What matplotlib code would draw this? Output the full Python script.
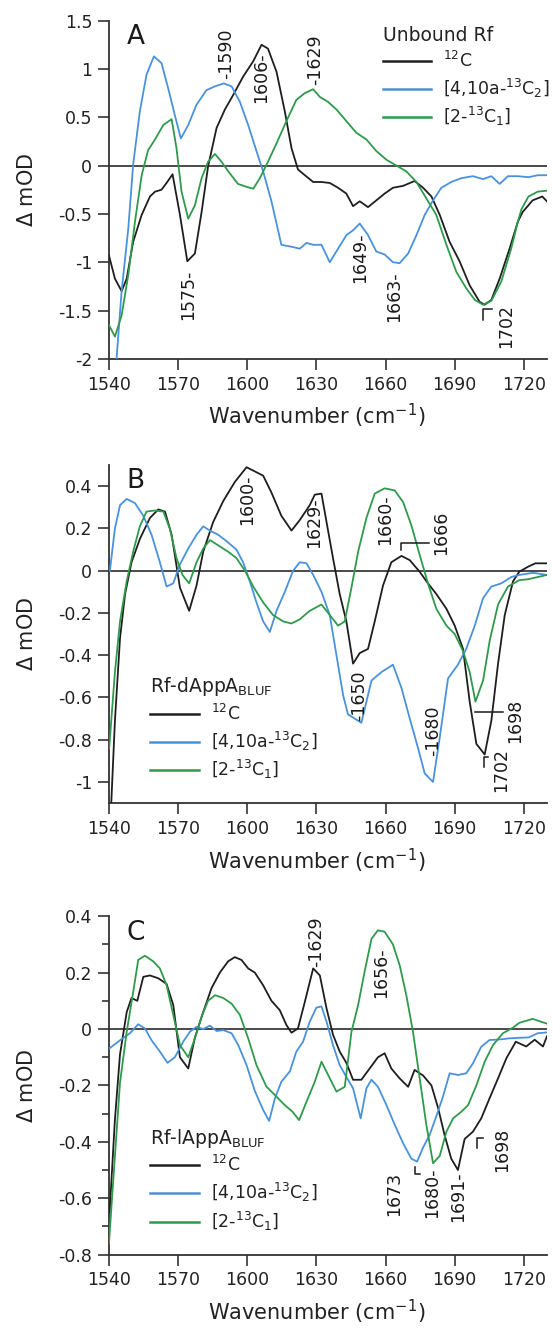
import matplotlib
matplotlib.use('Agg')
import matplotlib.pyplot as plt
from matplotlib.lines import Line2D
from matplotlib.ticker import MultipleLocator

# ---------------- Panel A: unbound Rf ----------------
a_c12_x = [1540, 1542.6, 1545.5, 1547.7, 1550.5, 1554.2, 1557.8, 1560, 1562.8, 1565, 1567.6, 1570.8,
           1574, 1577.3, 1580.2, 1583, 1586.7, 1590.3, 1593.9, 1598.2, 1602.6, 1606.2, 1609, 1612.7,
           1616.3, 1619.2, 1622, 1625, 1628.6, 1632.2, 1635.8, 1639.4, 1643, 1645.9, 1648.8, 1652.4,
           1656, 1659.6, 1663.2, 1667.6, 1672.6, 1676.3, 1679.9, 1683.5, 1687.8, 1692.1, 1696.5,
           1700.8, 1703, 1705.9, 1709.5, 1713.8, 1717.4, 1719.5, 1723.8, 1728, 1730]
a_c12_y = [-0.93, -1.17, -1.30, -1.17, -0.79, -0.51, -0.32, -0.27, -0.25, -0.18, -0.09, -0.51,
           -0.99, -0.91, -0.48, -0.01, 0.39, 0.58, 0.73, 0.92, 1.08, 1.25, 1.21, 0.97,
           0.56, 0.18, -0.04, -0.10, -0.17, -0.17, -0.18, -0.23, -0.29, -0.42, -0.37, -0.43,
           -0.36, -0.29, -0.23, -0.21, -0.16, -0.23, -0.32, -0.51, -0.79, -0.99, -1.24,
           -1.41, -1.44, -1.39, -1.17, -0.86, -0.58, -0.48, -0.36, -0.32, -0.37]

a_c13b_x = [1543.3, 1545.5, 1548.4, 1550.5, 1553.4, 1556.3, 1559.5, 1562.8, 1565.7, 1568.6, 1571.2,
            1574.4, 1578, 1582.3, 1586, 1589.8, 1593.2, 1596.8, 1600.4, 1604, 1606.9, 1610.5, 1614.8,
            1619.2, 1622.8, 1625.7, 1628.6, 1632.2, 1635.8, 1639.4, 1643, 1645.9, 1648.8, 1652.4,
            1656, 1659.6, 1663.2, 1666.1, 1669.8, 1673.4, 1677, 1680.6, 1684.2, 1688.5, 1692.9,
            1697.9, 1702.3, 1705.9, 1709.5, 1713.1, 1717.4, 1722, 1726, 1730]
a_c13b_y = [-2.0, -1.30, -0.65, 0.01, 0.56, 0.94, 1.13, 1.06, 0.80, 0.52, 0.28,
            0.42, 0.63, 0.78, 0.82, 0.85, 0.82, 0.66, 0.42, 0.15, -0.06, -0.37, -0.82,
            -0.84, -0.86, -0.80, -0.82, -0.82, -1.00, -0.86, -0.72, -0.67, -0.60, -0.72,
            -0.89, -0.92, -1.00, -1.01, -0.91, -0.72, -0.51, -0.36, -0.23, -0.17, -0.13,
            -0.11, -0.14, -0.11, -0.19, -0.11, -0.11, -0.12, -0.10, -0.10]

a_c13g_x = [1540, 1542.6, 1545.5, 1548.4, 1551.3, 1554.2, 1557, 1560, 1563.6, 1567.2, 1569.3, 1571.5,
            1574.4, 1577.3, 1580.2, 1583, 1586, 1588.8, 1592.4, 1596, 1599.7, 1602.6, 1605.5, 1609,
            1612.7, 1617, 1621.3, 1625, 1628.6, 1631.5, 1635, 1638.7, 1643, 1647.3, 1651.7, 1656,
            1660.4, 1665.4, 1669, 1673.4, 1677.7, 1682, 1686.4, 1690.7, 1695, 1698.7, 1702.3,
            1705.9, 1710.2, 1714.5, 1717.4, 1719, 1722, 1726, 1730]
a_c13g_y = [-1.65, -1.77, -1.55, -1.13, -0.58, -0.10, 0.16, 0.27, 0.42, 0.48, 0.18, -0.27,
            -0.55, -0.41, -0.13, 0.04, 0.12, 0.04, -0.08, -0.19, -0.22, -0.24, -0.13, 0.04,
            0.23, 0.46, 0.68, 0.75, 0.79, 0.71, 0.66, 0.58, 0.46, 0.34, 0.27, 0.15,
            0.06, -0.01, -0.06, -0.17, -0.34, -0.51, -0.82, -1.10, -1.27, -1.39, -1.44,
            -1.40, -1.20, -0.86, -0.58, -0.45, -0.32, -0.27, -0.26]

# ---------------- Panel B: Rf-dAppA BLUF ----------------
b_c12_x = [1540.8, 1542.6, 1544.8, 1547, 1549.8, 1553.4, 1557.8, 1561.4, 1564.3, 1567.2, 1570.8,
           1574.8, 1578, 1580.9, 1585.2, 1589.6, 1594.6, 1599.7, 1603.3, 1606.9, 1610.5, 1614.8,
           1619.2, 1622.8, 1627.1, 1629.3, 1632.2, 1634.4, 1637.2, 1640.1, 1643, 1645.9, 1648.8,
           1652.4, 1655.3, 1658.9, 1662.5, 1666.9, 1670.5, 1674.8, 1678.4, 1682, 1686.4, 1690,
           1693.6, 1696.5, 1699.4, 1703, 1705.9, 1708.8, 1711.7, 1715.3, 1718, 1722, 1725, 1730]
b_c12_y = [-1.15, -0.71, -0.32, -0.11, 0.04, 0.15, 0.25, 0.29, 0.28, 0.17, -0.08,
           -0.19, -0.07, 0.09, 0.23, 0.33, 0.42, 0.49, 0.47, 0.45, 0.37, 0.26,
           0.19, 0.24, 0.31, 0.36, 0.365, 0.23, 0.06, -0.11, -0.24, -0.44, -0.39,
           -0.37, -0.24, -0.07, 0.04, 0.07, 0.05, -0.005, -0.06, -0.11, -0.18, -0.26,
           -0.37, -0.62, -0.82, -0.87, -0.71, -0.44, -0.21, -0.05, -0.005, 0.02, 0.035, 0.035]

b_c13b_x = [1540.4, 1542.6, 1544.8, 1547.7, 1551.3, 1554.9, 1558.5, 1562.1, 1565, 1567.9, 1570.8,
            1574.4, 1578, 1580.9, 1583.8, 1587.4, 1591, 1595.3, 1598.2, 1601.1, 1604, 1606.9,
            1609.8, 1612.7, 1616.3, 1619.9, 1622.8, 1625.7, 1628.6, 1632.2, 1635.8, 1638.7,
            1641.6, 1643.7, 1646.6, 1649.5, 1651.7, 1653.9, 1658.2, 1663.2, 1666.9, 1670.5,
            1674.1, 1677, 1680.6, 1683.5, 1687.1, 1691.4, 1695, 1698.7, 1702.3, 1705.9, 1710.2,
            1714.5, 1718, 1724, 1730]
b_c13b_y = [0.0, 0.20, 0.31, 0.34, 0.32, 0.26, 0.17, 0.04, -0.075, -0.06, 0.03,
            0.105, 0.17, 0.21, 0.19, 0.17, 0.14, 0.10, 0.04, -0.05, -0.15, -0.24,
            -0.29, -0.19, -0.10, 0.0, 0.04, 0.035, -0.02, -0.10, -0.21, -0.40,
            -0.59, -0.68, -0.70, -0.72, -0.62, -0.52, -0.48, -0.445, -0.555, -0.70,
            -0.84, -0.96, -1.0, -0.79, -0.51, -0.445, -0.37, -0.26, -0.13, -0.075, -0.06,
            -0.03, -0.02, -0.01, -0.02]

b_c13g_x = [1540.1, 1542.6, 1544.8, 1547.7, 1550.5, 1553.4, 1556.3, 1559.9, 1563.6, 1566.4, 1569.3,
            1571.9, 1574.8, 1578, 1580.9, 1583.8, 1587.4, 1591.7, 1595.3, 1599, 1602.6, 1606.9,
            1611.2, 1615.6, 1619.2, 1622.8, 1627.1, 1632.2, 1635.8, 1639.4, 1642.3, 1645.2,
            1648.1, 1651.7, 1655.3, 1659.6, 1664, 1667.6, 1671.2, 1674.8, 1678.4, 1682, 1686.4,
            1690, 1693.6, 1696.5, 1699, 1702.3, 1705.2, 1708.8, 1713.1, 1718, 1722, 1726, 1730]
b_c13g_y = [-0.84, -0.48, -0.24, -0.05, 0.09, 0.21, 0.28, 0.285, 0.28, 0.20, 0.06,
            -0.02, -0.06, 0.04, 0.105, 0.145, 0.12, 0.09, 0.06, 0.0, -0.075, -0.15,
            -0.21, -0.24, -0.25, -0.23, -0.19, -0.16, -0.21, -0.26, -0.24, -0.08,
            0.09, 0.25, 0.365, 0.39, 0.38, 0.325, 0.215, 0.075, -0.06, -0.18, -0.26,
            -0.30, -0.38, -0.48, -0.62, -0.52, -0.33, -0.16, -0.075, -0.045, -0.04, -0.03, -0.02]

# ---------------- Panel C: Rf-lAppA BLUF ----------------
c_c12_x = [1540.3, 1542.6, 1544.8, 1547.7, 1549.8, 1552.3, 1554.9, 1557.8, 1561.4, 1565, 1567.9,
           1570.8, 1574.4, 1577.3, 1580.9, 1584.5, 1588.1, 1591.7, 1594.6, 1597.5, 1600.4, 1603.3,
           1606.9, 1610.5, 1614.1, 1617, 1619.2, 1622, 1625, 1628.6, 1631.5, 1634.4, 1637.2,
           1640.1, 1643, 1645.9, 1649.5, 1653.1, 1656.7, 1659.6, 1662.5, 1666.1, 1669.8, 1672.6,
           1676.3, 1679.9, 1682.8, 1685.6, 1688.5, 1691.4, 1694.3, 1697.9, 1701.5, 1705.1,
           1708.8, 1712.4, 1716.5, 1721, 1724.7, 1728.3, 1730]
c_c12_y = [-0.65, -0.32, -0.09, 0.06, 0.11, 0.10, 0.185, 0.19, 0.18, 0.16, 0.085,
           -0.10, -0.14, -0.03, 0.06, 0.145, 0.20, 0.24, 0.255, 0.245, 0.215, 0.20,
           0.155, 0.10, 0.067, 0.014, -0.013, 0.002, 0.097, 0.215, 0.19, 0.073, -0.02,
           -0.08, -0.12, -0.18, -0.18, -0.14, -0.10, -0.086, -0.14, -0.175, -0.205, -0.145,
           -0.165, -0.20, -0.28, -0.376, -0.46, -0.50, -0.39, -0.364, -0.317, -0.246,
           -0.175, -0.104, -0.045, -0.062, -0.038, -0.062, -0.026]

c_c13b_x = [1540, 1544.8, 1549.1, 1552.7, 1555.6, 1558.5, 1562.1, 1565.4, 1568.6, 1572.2, 1575.1,
            1578, 1580.9, 1583.8, 1586.7, 1589.6, 1593.2, 1596.1, 1599.7, 1603.3, 1606.9, 1609.5,
            1612, 1614.8, 1618.5, 1621.3, 1624.2, 1627.1, 1630, 1632.2, 1634.4, 1637.2, 1640.1,
            1643, 1645.9, 1649.2, 1651.7, 1653.9, 1656.7, 1660.4, 1664, 1667.6, 1671.2, 1673.7,
            1676.3, 1679.1, 1682, 1684.9, 1687.8, 1691.4, 1695, 1697.9, 1701.5, 1705.1, 1709.5,
            1713.8, 1718.2, 1722, 1726, 1730]
c_c13b_y = [-0.07, -0.04, -0.015, 0.017, 0.002, -0.04, -0.08, -0.12, -0.10, -0.045, -0.01,
            0.008, 0.0, 0.012, -0.007, -0.004, -0.015, -0.057, -0.128, -0.22, -0.287, -0.326,
            -0.246, -0.187, -0.15, -0.08, -0.045, 0.026, 0.076, 0.08, 0.026, -0.057, -0.128,
            -0.17, -0.21, -0.317, -0.21, -0.18, -0.205, -0.27, -0.34, -0.405, -0.46, -0.47,
            -0.42, -0.376, -0.31, -0.24, -0.157, -0.163, -0.157, -0.122, -0.063, -0.039, -0.037,
            -0.033, -0.031, -0.03, -0.015, -0.012]

c_c13g_x = [1540, 1542.6, 1544.8, 1547.7, 1550.5, 1552.7, 1555.6, 1559.2, 1562.1, 1565, 1567.9,
            1570.8, 1574.4, 1577.3, 1580.2, 1583, 1586, 1589.6, 1593.2, 1596.8, 1600.4, 1604,
            1608.3, 1612.7, 1616.3, 1619.6, 1622.5, 1625.7, 1629.3, 1632.2, 1635.1, 1638.7,
            1642.3, 1645.2, 1648.1, 1650.9, 1653.9, 1656.7, 1659.6, 1663.2, 1666.1, 1669,
            1671.9, 1674.8, 1677.7, 1680.6, 1683.5, 1686.4, 1689.3, 1692.9, 1695.8, 1699.4,
            1703, 1706.6, 1710.9, 1715.3, 1718, 1723.8, 1730]
c_c13g_y = [-0.76, -0.45, -0.19, -0.01, 0.13, 0.245, 0.26, 0.24, 0.215, 0.156, 0.05,
            -0.057, -0.10, -0.033, 0.044, 0.10, 0.12, 0.11, 0.09, 0.05, -0.033, -0.128,
            -0.204, -0.24, -0.27, -0.293, -0.323, -0.258, -0.187, -0.116, -0.163, -0.222,
            -0.205, -0.01, 0.085, 0.203, 0.32, 0.35, 0.345, 0.30, 0.227, 0.12,
            -0.01, -0.175, -0.34, -0.476, -0.45, -0.364, -0.317, -0.293, -0.27, -0.2,
            -0.116, -0.057, -0.015, 0.005, 0.022, 0.036, 0.019]

series_labels = [r'$^{12}$C', r'[4,10a-$^{13}$C$_2$]', r'[2-$^{13}$C$_1$]']
xticks = [1540, 1570, 1600, 1630, 1660, 1690, 1720]

BLACK = '#1e1e1e'
BLUE = '#4a92db'
GREEN = '#2f9a4c'
AXC = '#333333'

plt.rcParams['font.family'] = 'DejaVu Sans'
plt.rcParams['mathtext.fontset'] = 'dejavusans'

fig = plt.figure(figsize=(5.53, 13.30), dpi=100)
left, width = 0.197, 0.792
axA = fig.add_axes([left, 0.7302, width, 0.2543])
axB = fig.add_axes([left, 0.3962, width, 0.2541])
axC = fig.add_axes([left, 0.0567, width, 0.2544])


def style_axis(ax, ylim, yticks, letter, minor=None):
    ax.axhline(0, color='#3a3a3a', lw=1.3, zorder=1)
    ax.set_xlim(1540, 1730)
    ax.set_ylim(*ylim)
    ax.set_xticks(xticks)
    ax.set_yticks(yticks)
    ax.set_yticklabels(['%g' % t for t in yticks])
    if minor:
        ax.yaxis.set_minor_locator(MultipleLocator(minor))
        ax.tick_params(axis='y', which='minor', direction='out', length=5, width=1.2, color=AXC)
    for s in ['top', 'right']:
        ax.spines[s].set_visible(False)
    for s in ['left', 'bottom']:
        ax.spines[s].set_color(AXC)
        ax.spines[s].set_linewidth(1.3)
    ax.tick_params(axis='both', which='major', direction='out', length=8, width=1.2,
                   color=AXC, labelsize=12.5, pad=4, labelcolor='#222222')
    ax.set_xlabel(r'Wavenumber (cm$^{-1}$)', fontsize=15, color='#222222')
    ax.xaxis.set_label_coords(0.4737, -0.128)
    ax.set_ylabel(r'$\Delta$ mOD', fontsize=15, color='#222222')
    ax.yaxis.set_label_coords(-0.165, 0.5)
    ax.text(0.04, 0.99, letter, transform=ax.transAxes, fontsize=19, ha='left', va='top',
            color='#1a1a1a')


def plot_set(ax, xs, ys):
    cols = [BLACK, BLUE, GREEN]
    handles = []
    for x, y, c in zip(xs, ys, cols):
        ax.plot(x, y, color=c, lw=1.3, zorder=3)
        handles.append(Line2D([], [], color=c, lw=1.8))
    return handles


def add_legend(ax, handles, title, anchor):
    leg = ax.legend(handles, series_labels, title=title, loc='upper left', bbox_to_anchor=anchor,
                    frameon=False, fontsize=12.5, title_fontsize=13.5, handlelength=2.8,
                    handletextpad=0.7, labelspacing=0.32, borderaxespad=0, borderpad=0,
                    alignment='left')
    for t in leg.get_texts():
        t.set_color('#222222')
    leg.get_title().set_color('#222222')


def vlabel(ax, x, y, s, va):
    ax.text(x, y, s, rotation=90, ha='center', va=va, fontsize=12.5, color='#1a1a1a', zorder=5)


def bracket(ax, xs, ys):
    ax.plot(xs, ys, color='#1a1a1a', lw=1.1, zorder=5)


# Panel A
hA = plot_set(axA, [a_c12_x, a_c13b_x, a_c13g_x], [a_c12_y, a_c13b_y, a_c13g_y])
style_axis(axA, (-2, 1.5), [-2, -1.5, -1, -0.5, 0, 0.5, 1, 1.5], 'A')
add_legend(axA, hA, 'Unbound Rf', (0.625, 0.983))
vlabel(axA, 1591, 0.9, '-1590', 'bottom')
vlabel(axA, 1606.2, 1.17, '1606-', 'top')
vlabel(axA, 1629.6, 0.83, '-1629', 'bottom')
vlabel(axA, 1574.2, -1.08, '1575-', 'top')
vlabel(axA, 1649, -0.69, '1649-', 'top')
vlabel(axA, 1663.5, -1.09, '1663-', 'top')
vlabel(axA, 1712.4, -1.66, '1702', 'center')
bracket(axA, [1702.3, 1702.3, 1706.3], [-1.60, -1.48, -1.48])

# Panel B
hB = plot_set(axB, [b_c12_x, b_c13b_x, b_c13g_x], [b_c12_y, b_c13b_y, b_c13g_y])
style_axis(axB, (-1.1, 0.5), [-1, -0.8, -0.6, -0.4, -0.2, 0, 0.2, 0.4], 'B')
add_legend(axB, hB, r'Rf-dAppA$_{\mathrm{BLUF}}$', (0.0936, 0.378))
vlabel(axB, 1600.1, 0.455, '1600-', 'top')
vlabel(axB, 1629, 0.345, '1629-', 'top')
vlabel(axB, 1659.6, 0.36, '1660-', 'top')
vlabel(axB, 1684.2, 0.18, '1666', 'center')
bracket(axB, [1666.9, 1666.9, 1679], [0.097, 0.133, 0.133])
vlabel(axB, 1648.5, -0.59, '-1650', 'center')
vlabel(axB, 1680.6, -0.76, '-1680', 'center')
vlabel(axB, 1710, -0.945, '1702', 'center')
bracket(axB, [1702.5, 1702.5, 1704.6], [-0.93, -0.88, -0.88])
vlabel(axB, 1716.3, -0.71, '1698', 'center')
bracket(axB, [1699, 1711], [-0.67, -0.67])

# Panel C
hC = plot_set(axC, [c_c12_x, c_c13b_x, c_c13g_x], [c_c12_y, c_c13b_y, c_c13g_y])
style_axis(axC, (-0.8, 0.4), [-0.8, -0.6, -0.4, -0.2, 0, 0.2, 0.4], 'C', minor=0.1)
add_legend(axC, hC, r'Rf-lAppA$_{\mathrm{BLUF}}$', (0.0936, 0.378))
vlabel(axC, 1629.7, 0.22, '-1629', 'bottom')
vlabel(axC, 1658.2, 0.29, '1656-', 'top')
vlabel(axC, 1663.5, -0.585, '1673', 'center')
bracket(axC, [1672.6, 1672.6, 1675.1], [-0.488, -0.515, -0.515])
vlabel(axC, 1680.2, -0.49, '1680-', 'top')
vlabel(axC, 1691.6, -0.505, '1691-', 'top')
vlabel(axC, 1710.5, -0.43, '1698', 'center')
bracket(axC, [1699.8, 1699.8, 1702.3], [-0.423, -0.388, -0.388])

fig.savefig('out.png', dpi=100)
